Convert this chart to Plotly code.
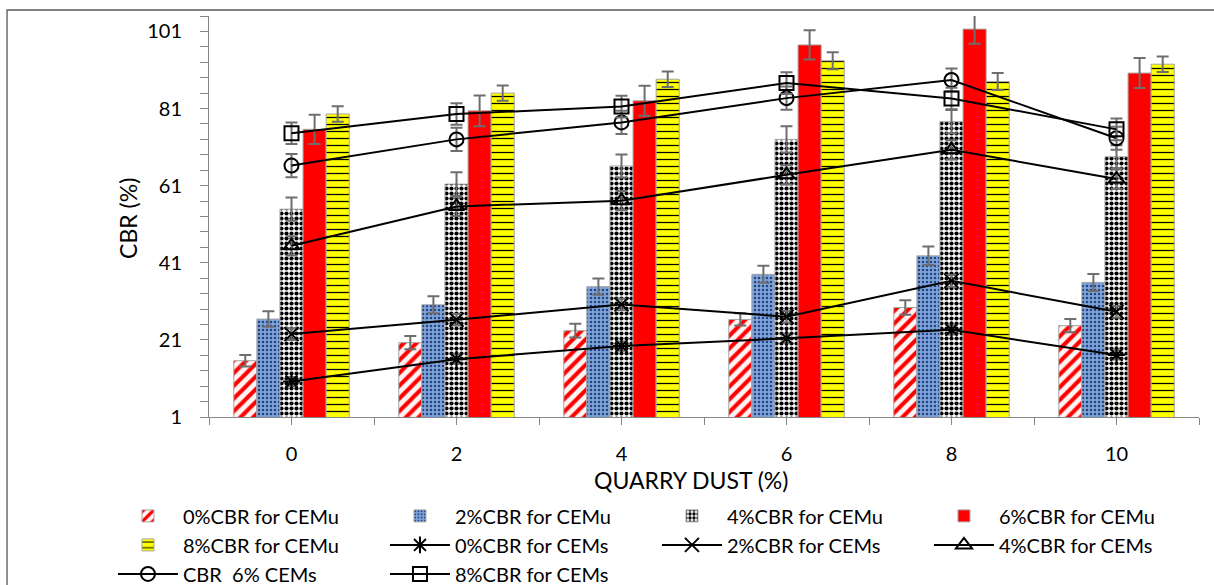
import plotly.graph_objects as go

# Quarry dust content (%) on the x axis
quarry_dust = [0, 2, 4, 6, 8, 10]

# CBR (%) for untreated cement mixes (bars)
cbr_cemu_0 = [15.6, 20.3, 23.4, 26.3, 29.4, 24.7]
cbr_cemu_2 = [26.4, 30.1, 34.8, 38.0, 42.8, 35.9]
cbr_cemu_4 = [54.9, 61.4, 66.1, 73.0, 77.6, 68.5]
cbr_cemu_6 = [75.6, 80.4, 83.0, 97.5, 101.6, 90.2]
cbr_cemu_8 = [79.6, 85.0, 88.6, 93.4, 88.0, 92.5]

# CBR (%) for stabilised cement mixes (lines)
cbr_cems_0 = [10.2, 16.0, 19.4, 21.4, 23.6, 17.1]
cbr_cems_2 = [22.5, 26.2, 30.2, 27.0, 36.3, 28.3]
cbr_cems_4 = [45.4, 55.6, 57.1, 63.8, 70.3, 62.7]
cbr_cems_6 = [66.2, 73.0, 77.4, 83.7, 88.4, 73.3]
cbr_cems_8 = [74.6, 79.6, 81.5, 87.6, 83.6, 75.6]

# error bar half-lengths
err_cemu_0 = [1.5, 1.7, 1.8, 1.6, 1.9, 1.7]
err_cemu_2 = [2.0, 2.2, 2.1, 2.2, 2.4, 2.2]
err_cemu_4 = [3.0, 3.1, 3.0, 3.4, 3.0, 3.0]
err_cemu_6 = [3.8, 4.0, 3.9, 3.8, 3.8, 3.9]
err_cemu_8 = [2.0, 2.0, 2.0, 2.2, 2.2, 2.0]
err_cems_0 = [1.2, 1.2, 1.2, 1.2, 1.2, 1.2]
err_cems_2 = [1.5, 1.5, 1.5, 1.5, 1.5, 1.5]
err_cems_4 = [2.5, 2.5, 2.5, 2.5, 2.5, 2.5]
err_cems_6 = [3.0, 3.0, 3.0, 3.0, 3.0, 3.0]
err_cems_8 = [2.8, 2.8, 2.8, 2.8, 2.8, 2.8]

y_ticks = [1, 21, 41, 61, 81, 101]

FONT = "Lato"
AXIS_GREY = "#868686"
ERR_GREY = "#6e6e6e"
OUTLINE = "#a6a6a6"

fig = go.Figure()

bar_specs = [
    ("0%CBR for CEMu", cbr_cemu_0, err_cemu_0,
     dict(shape="/", fgcolor="#ff0000", bgcolor="#fff4f4", size=9, solidity=0.45)),
    ("2%CBR for CEMu", cbr_cemu_2, err_cemu_2,
     dict(shape=".", fgcolor="#23437e", bgcolor="#7fa3db", size=4, solidity=0.3)),
    ("4%CBR for CEMu", cbr_cemu_4, err_cemu_4,
     dict(shape=".", fgcolor="black", bgcolor="white", size=5, solidity=0.55)),
    ("6%CBR for CEMu", cbr_cemu_6, err_cemu_6, None),
    ("8%CBR for CEMu", cbr_cemu_8, err_cemu_8,
     dict(shape="-", fgcolor="black", bgcolor="#ffff00", size=7, solidity=0.18)),
]

for name, vals, errs, pattern in bar_specs:
    marker = dict(line=dict(color=OUTLINE, width=1))
    if pattern is None:
        marker["color"] = "#ff0000"
    else:
        marker["color"] = pattern["bgcolor"]
        marker["pattern"] = dict(fillmode="replace", **pattern)
    fig.add_trace(go.Bar(
        x=quarry_dust, y=vals, name=name, marker=marker,
        error_y=dict(type="data", array=errs, visible=True,
                     color=ERR_GREY, thickness=2, width=6),
    ))

line_specs = [
    ("0%CBR for CEMs", cbr_cems_0, err_cems_0, "asterisk-open"),
    ("2%CBR for CEMs", cbr_cems_2, err_cems_2, "x-thin-open"),
    ("4%CBR for CEMs", cbr_cems_4, err_cems_4, "triangle-up-open"),
    ("CBR  6% CEMs", cbr_cems_6, err_cems_6, "circle-open"),
    ("8%CBR for CEMs", cbr_cems_8, err_cems_8, "square-open"),
]

for name, vals, errs, symbol in line_specs:
    fig.add_trace(go.Scatter(
        x=quarry_dust, y=vals, name=name, mode="lines+markers",
        line=dict(color="black", width=2),
        marker=dict(symbol=symbol, size=14, color="black",
                    line=dict(color="black", width=2)),
        error_y=dict(type="data", array=errs, visible=True,
                     color=ERR_GREY, thickness=2, width=6),
    ))

fig.update_layout(
    width=1214, height=585,
    margin=dict(l=209, r=15, t=16, b=168, autoexpand=False),
    paper_bgcolor="white", plot_bgcolor="white",
    font=dict(family=FONT, size=20, color="black"),
    barmode="group", bargap=0.30, bargroupgap=0,
    showlegend=True,
    legend=dict(
        orientation="h", x=-0.097, xanchor="left", y=-0.198, yanchor="top",
        entrywidth=197, entrywidthmode="pixels", itemwidth=60,
        font=dict(family=FONT, size=20), tracegroupgap=0,
        traceorder="normal", bgcolor="rgba(0,0,0,0)",
    ),
    xaxis=dict(
        range=[-1, 11], tickmode="array", tickvals=quarry_dust,
        ticktext=[str(v) for v in quarry_dust],
        showgrid=False, zeroline=False, showline=True,
        linecolor=AXIS_GREY, linewidth=1,
        ticks="outside", ticklen=7, tickcolor=AXIS_GREY, tickwidth=1,
        ticklabelstandoff=12,
        minor=dict(tick0=1, dtick=2, ticks="outside", ticklen=7,
                   tickcolor=AXIS_GREY, tickwidth=1, showgrid=False),
        tickfont=dict(family=FONT, size=20),
    ),
    yaxis=dict(
        range=[1, 105], tickmode="array", tickvals=y_ticks,
        ticktext=[str(v) for v in y_ticks],
        showgrid=False, zeroline=False, showline=True,
        linecolor=AXIS_GREY, linewidth=1,
        ticks="outside", ticklen=8, tickcolor=AXIS_GREY, tickwidth=1,
        ticklabelstandoff=14,
        minor=dict(tick0=1, dtick=4, ticks="outside", ticklen=8,
                   tickcolor=AXIS_GREY, tickwidth=1, showgrid=False),
        tickfont=dict(family=FONT, size=20),
    ),
    annotations=[
        dict(text="QUARRY DUST (%)", xref="paper", yref="paper",
             x=0.487, y=-0.157, xanchor="center", yanchor="middle",
             showarrow=False, font=dict(family=FONT, size=23)),
        dict(text="CBR (%)", xref="paper", yref="paper", textangle=-90,
             x=-0.082, y=0.496, xanchor="center", yanchor="middle",
             showarrow=False, font=dict(family=FONT, size=23)),
    ],
    shapes=[
        dict(type="rect", xref="paper", yref="paper",
             x0=-0.204, x1=1.05, y0=-0.6, y1=1.015,
             line=dict(color="#595959", width=1.3), fillcolor="rgba(0,0,0,0)",
             layer="above"),
    ],
)

fig.write_html("out.html")
